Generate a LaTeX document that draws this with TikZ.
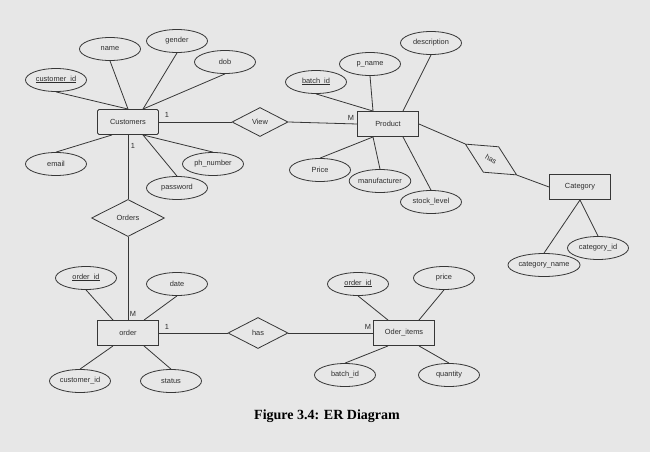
\documentclass[tikz,border=0pt]{standalone}
\usepackage{fontspec}
\setmainfont{Liberation Sans}
\newfontfamily\capfont{Liberation Serif}
\usetikzlibrary{shapes.geometric}
\definecolor{bg}{RGB}{231,231,231}
\definecolor{ln}{RGB}{55,55,55}
\definecolor{tx}{RGB}{45,45,45}
\newcommand\keyattr[1]{\setbox0\hbox{#1}\rlap{\rule[-0.9pt]{\wd0}{0.45pt}}\box0}
\begin{document}
\begin{tikzpicture}[x=1pt,y=-1pt,
  lbl/.style={font=\fontsize{7.4}{9}\selectfont, text=tx},
  ent/.style={lbl, draw=ln, line width=0.9pt, rectangle, minimum width=61pt, minimum height=25pt, inner sep=0pt},
  attr/.style={lbl, draw=ln, line width=0.8pt, ellipse, minimum width=61pt, minimum height=23pt, inner sep=0pt},
  rel/.style={lbl, draw=ln, line width=0.8pt, diamond, inner sep=0pt},
  conn/.style={draw=ln, line width=0.8pt},
  card/.style={lbl, inner sep=0pt}]
\fill[bg] (0,0) rectangle (650,452);
\useasboundingbox (0,0) rectangle (650,452);

% Customers
\node[ent, rounded corners=1.5pt] (cust) at (128,122) {Customers};
\node[attr] (cid) at (56,80) {\keyattr{customer\_id}};
\node[attr] (cname) at (110,49) {name};
\node[attr] (cgender) at (177,41) {gender};
\node[attr] (cdob) at (225,62) {dob};
\node[attr] (cemail) at (56,164) {email};
\node[attr] (cph) at (213,164) {ph\_number};
\node[attr] (cpw) at (177,188) {password};
\draw[conn] (cid.south) -- (cust.north);
\draw[conn] (cname.south) -- (cust.north);
\draw[conn] (cgender.south) -- ([xshift=15pt]cust.north);
\draw[conn] (cdob.south) -- ([xshift=15pt]cust.north);
\draw[conn] (cemail.north) -- ([xshift=-16pt]cust.south);
\draw[conn] (cph.north) -- ([xshift=15pt]cust.south);
\draw[conn] (cpw.north) -- ([xshift=15pt]cust.south);

% View
\node[rel, minimum width=56pt, minimum height=29pt] (view) at (260,122) {View};

% Product
\node[ent] (prod) at (388,124) {Product};
\node[attr] (pbid) at (316,82) {\keyattr{batch\_id}};
\node[attr] (pname) at (370,64) {p\_name};
\node[attr] (pdesc) at (431,43) {description};
\node[attr] (pprice) at (320,170) {Price};
\node[attr] (pman) at (380,181) {manufacturer};
\node[attr] (pstock) at (431,202) {stock\_level};
\draw[conn] (pbid.south) -- ([xshift=-15pt]prod.north);
\draw[conn] (pname.south) -- ([xshift=-15pt]prod.north);
\draw[conn] (pdesc.south) -- ([xshift=15pt]prod.north);
\draw[conn] (pprice.north) -- ([xshift=-15pt]prod.south);
\draw[conn] (pman.north) -- ([xshift=-15pt]prod.south);
\draw[conn] (pstock.north) -- ([xshift=15pt]prod.south);

\draw[conn] (cust.east) -- (view.west);
\draw[conn] (view.east) -- (prod.west);
\node[card] (c1) at (167,115) {1};
\node[card] (c2) at (351,118) {M};

% Category
\node[rel, minimum width=60pt, minimum height=30pt, rotate=-31] (phas) at (491,159.5) {has};
\node[ent] (cat) at (580,187) {Category};
\node[attr] (catid) at (598,248) {category\_id};
\node[attr] (catname) at (544,265) {category\_name};
\draw[conn] (prod.east) -- (phas.west);
\draw[conn] (phas.east) -- (cat.west);
\draw[conn] (cat.south) -- (catid.north);
\draw[conn] (cat.south) -- (catname.north);

% Orders
\node[rel, minimum width=73pt, minimum height=37pt] (orders) at (128,218) {Orders};
\node[ent] (ord) at (128,333) {order};
\node[attr] (oid) at (86,278) {\keyattr{order\_id}};
\node[attr] (odate) at (177,284) {date};
\node[attr] (ocid) at (80,381) {customer\_id};
\node[attr] (ostat) at (171,381) {status};
\draw[conn] (cust.south) -- (orders.north);
\draw[conn] (orders.south) -- (ord.north);
\draw[conn] (oid.south) -- ([xshift=-15pt]ord.north);
\draw[conn] (odate.south) -- ([xshift=16pt]ord.north);
\draw[conn] (ocid.north) -- ([xshift=-15pt]ord.south);
\draw[conn] (ostat.north) -- ([xshift=16pt]ord.south);
\node[card] (c3) at (133,146) {1};
\node[card] (c4) at (133,314) {M};

% has / Oder_items
\node[rel, minimum width=60pt, minimum height=31pt] (ohas) at (258,333) {has};
\node[ent] (oi) at (404,333) {Oder\_items};
\node[attr] (oioid) at (358,284) {\keyattr{order\_id}};
\node[attr] (oiprice) at (444,278) {price};
\node[attr] (oibid) at (345,375) {batch\_id};
\node[attr] (oiqty) at (449,375) {quantity};
\draw[conn] (ord.east) -- (ohas.west);
\draw[conn] (ohas.east) -- (oi.west);
\draw[conn] (oioid.south) -- ([xshift=-16pt]oi.north);
\draw[conn] (oiprice.south) -- ([xshift=15pt]oi.north);
\draw[conn] (oibid.north) -- ([xshift=-16pt]oi.south);
\draw[conn] (oiqty.north) -- ([xshift=15pt]oi.south);
\node[card] (c5) at (167,327) {1};
\node[card] (c6) at (368,327) {M};

% caption
\node (cap) at (327,416) {\capfont\bfseries\fontsize{14}{16}\selectfont Figure 3.4: ER Diagram};
\end{tikzpicture}
\end{document}
